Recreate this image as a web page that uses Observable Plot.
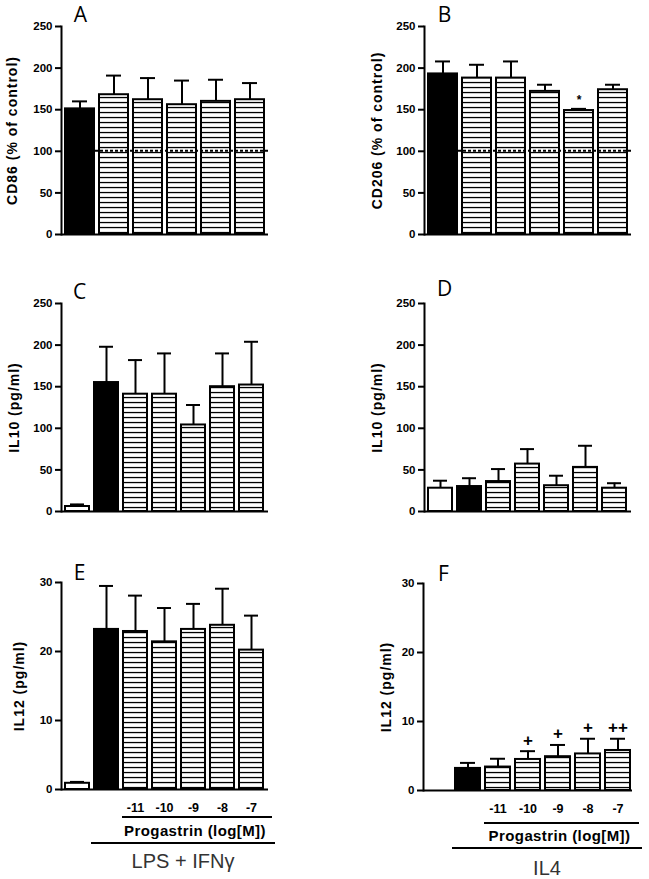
<!DOCTYPE html>
<html><head><meta charset="utf-8">
<script src="https://cdn.jsdelivr.net/npm/d3@7"></script>
<script src="https://cdn.jsdelivr.net/npm/@observablehq/plot@0.6"></script>
<style>
body{margin:0;background:#fff;}
#root{position:relative;width:649px;height:879px;overflow:hidden;background:#fff;}
.panel{position:absolute;}
.panel svg{overflow:visible;}
</style></head><body><div id="root"></div>
<script>
// ---- categories ----
const catsAB = ["Stimulated", "-11", "-10", "-9", "-8", "-7"];
const kindsAB = ["black", "hatch", "hatch", "hatch", "hatch", "hatch"];
const cats7 = ["Control", "Stimulated", "-11", "-10", "-9", "-8", "-7"];
const kinds7 = ["white", "black", "hatch", "hatch", "hatch", "hatch", "hatch"];
const doseLabels = ["-11", "-10", "-9", "-8", "-7"];

// ---- values (mean, upper error) ----
const cd86Mean = [151, 168, 162, 156, 160, 162];
const cd86Err = [9, 23, 26, 29, 26, 20];
const cd206Mean = [193, 188, 188, 172, 149, 174];
const cd206Err = [15, 16, 20, 8, 2, 6];
const cd206Sig = ["", "", "", "", "*", ""];
const il10LpsMean = [6, 155, 141, 141, 104, 150, 152];
const il10LpsErr = [2.5, 43, 41, 49, 24, 40, 52];
const il10Il4Mean = [28, 30, 36, 57, 31, 53, 28];
const il10Il4Err = [9, 10, 15, 18, 12, 26, 6];
const il12LpsMean = [0.9, 23.2, 22.9, 21.4, 23.2, 23.8, 20.2];
const il12LpsErr = [0.2, 6.3, 5.2, 4.9, 3.7, 5.3, 5.0];
const il12Il4Mean = [null, 3.2, 3.4, 4.5, 4.9, 5.3, 5.8];
const il12Il4Err = [null, 0.8, 1.2, 1.2, 1.7, 2.2, 1.7];
const il12Il4Sig = ["", "", "", "+", "+", "+", "++"];

const ticks250 = [0, 50, 100, 150, 200, 250];
const ticks30 = [0, 10, 20, 30];

const FONT = "'Liberation Sans', Arial, sans-serif";

function drawPanel(cfg) {
  const rows = cfg.cats.map((c, i) => ({
    cat: c, kind: cfg.kinds[i], mean: cfg.mean[i],
    top: cfg.mean[i] == null ? null : cfg.mean[i] + cfg.err[i],
    sig: cfg.sig ? cfg.sig[i] : ""
  })).filter(d => d.mean != null);
  const hatchId = "hatch-" + cfg.id;
  const axisX = cfg.axisX, y0 = cfg.y0px;
  const plot = Plot.plot({
    width: cfg.width, height: cfg.height,
    marginLeft: axisX - cfg.left,
    marginRight: cfg.left + cfg.width - cfg.frameEnd,
    marginTop: cfg.yTopPx - cfg.top,
    marginBottom: cfg.top + cfg.height - y0,
    x: {type: "band", domain: cfg.cats, paddingInner: cfg.pi, paddingOuter: cfg.po, axis: null},
    y: {domain: [0, cfg.yMax], axis: null},
    style: {fontFamily: FONT, background: "transparent", overflow: "visible", color: "black"},
    marks: [
      Plot.barY(rows.filter(d => d.kind === "hatch"), {x: "cat", y: "mean", fill: `url(#${hatchId})`, stroke: "black", strokeWidth: 2}),
      Plot.barY(rows.filter(d => d.kind === "white"), {x: "cat", y: "mean", fill: "white", stroke: "black", strokeWidth: 2}),
      Plot.barY(rows.filter(d => d.kind === "black"), {x: "cat", y: "mean", fill: "black", stroke: "black", strokeWidth: 2}),
      Plot.ruleX(rows, {x: "cat", y1: "mean", y2: "top", stroke: "black", strokeWidth: 2}),
      Plot.tickY(rows, {x: "cat", y: "top", stroke: "black", strokeWidth: 2, inset: cfg.capInset}),
      Plot.text(rows.filter(d => d.sig), {x: "cat", y: "top", text: "sig", dy: cfg.sigDy, fontWeight: "bold", fontSize: cfg.sigSize, fill: "black"}),
      Plot.axisY({ticks: cfg.yTicks, tickSize: 6, tickPadding: 3, fontWeight: "bold", fontSize: 11.5, strokeWidth: 2, label: null, fill: "black", stroke: "black"}),
      Plot.frame({anchor: "left", strokeWidth: 2, stroke: "black"}),
      Plot.ruleY([0], {strokeWidth: 2, stroke: "black"}),
      Plot.text([cfg.yLabel], {text: d => d, frameAnchor: "left", dx: cfg.yLabelX - axisX, rotate: -90, textAnchor: "middle", lineAnchor: "middle", fontWeight: "bold", fontSize: 14, fill: "black"}),
      Plot.text([cfg.letter], {text: d => d, frameAnchor: "top-left", dx: cfg.letterX - axisX, dy: cfg.letterY - cfg.yTopPx, textAnchor: "middle", lineAnchor: "middle", fontSize: 21, fontFamily: "'Open Sans', sans-serif", fill: "black"}),
      ...(cfg.bottom ? [Plot.text(rows.filter(d => doseLabels.includes(d.cat)), {x: "cat", text: "cat", frameAnchor: "bottom", dy: 18, lineAnchor: "middle", fontWeight: "bold", fontSize: 12.5, fill: "black"})] : [])
    ]
  });
  const svg = d3.select(plot);
  const pat = svg.insert("defs", ":first-child").append("pattern")
    .attr("id", hatchId).attr("patternUnits", "userSpaceOnUse")
    .attr("width", 8).attr("height", 5);
  pat.append("rect").attr("width", 8).attr("height", 5).attr("fill", "white");
  pat.append("rect").attr("y", 1.9).attr("width", 8).attr("height", 1.3).attr("fill", "black");

  svg.selectAll("text").filter(function () { return this.textContent === cfg.yLabel; })
    .style("letter-spacing", "1px");
  // bold y tick labels
  svg.selectAll('g[aria-label="y-axis tick label"]').style("font-weight", "bold").style("font-size", "11.5px");

  const xs = plot.scale("x"), ys = plot.scale("y");
  const bw = xs.bandwidth;
  const ox = cfg.left;
  if (cfg.refLine != null) {
    svg.append("line")
      .attr("x1", xs.apply(cfg.cats.find((c, i) => cfg.kinds[i] === "black")) + bw + 1)
      .attr("x2", cfg.frameEnd - ox)
      .attr("y1", ys.apply(cfg.refLine)).attr("y2", ys.apply(cfg.refLine))
      .attr("stroke", "black").attr("stroke-width", 2).attr("stroke-dasharray", "3,2");
  }
  if (cfg.bottom) {
    const b = cfg.bottom;
    const yBase = ys.apply(0);
    const hStart = xs.apply(doseLabels[0]);
    const hEnd = xs.apply(doseLabels[doseLabels.length - 1]) + bw;
    const gStart = xs.apply("Stimulated");
    svg.append("line").attr("x1", hStart - 1).attr("x2", hEnd + 9)
      .attr("y1", yBase + b.line1).attr("y2", yBase + b.line1)
      .attr("stroke", "black").attr("stroke-width", 2);
    svg.append("text").attr("x", (hStart + hEnd) / 2 + 2).attr("y", yBase + b.prog)
      .attr("text-anchor", "middle").attr("dominant-baseline", "middle")
      .attr("font-family", FONT).attr("font-weight", "bold").attr("font-size", 15)
      .style("letter-spacing", "0.4px")
      .text("Progastrin (log[M])");
    svg.append("line").attr("x1", gStart - 3).attr("x2", hEnd + 12)
      .attr("y1", yBase + b.line2).attr("y2", yBase + b.line2)
      .attr("stroke", "black").attr("stroke-width", 2);
    svg.append("text").attr("x", (gStart - 3 + hEnd + 12) / 2).attr("y", yBase + b.group)
      .attr("text-anchor", "middle").attr("dominant-baseline", "middle")
      .attr("font-family", FONT).attr("font-size", 20).attr("fill", "#333")
      .text(b.groupLabel);
  }
  const div = document.createElement("div");
  div.className = "panel";
  div.style.left = cfg.left + "px";
  div.style.top = cfg.top + "px";
  div.appendChild(plot);
  document.getElementById("root").appendChild(div);
}

const abBand = {pi: 0.14, po: 0.07, capInset: 7};
const sevenBand = {pi: 0.16, po: 0.05, capInset: 5};

drawPanel({id: "A", left: 0, top: 0, width: 325, height: 250, axisX: 61, frameEnd: 268, y0px: 234, yTopPx: 26,
  cats: catsAB, kinds: kindsAB, mean: cd86Mean, err: cd86Err, yMax: 250, yTicks: ticks250,
  yLabel: "CD86 (% of control)", yLabelX: 12, letter: "A", letterX: 80, letterY: 15, refLine: 100, ...abBand});
drawPanel({id: "B", left: 325, top: 0, width: 324, height: 250, axisX: 424, frameEnd: 631, y0px: 234, yTopPx: 26,
  cats: catsAB, kinds: kindsAB, mean: cd206Mean, err: cd206Err, sig: cd206Sig, sigDy: -9, sigSize: 12, yMax: 250, yTicks: ticks250,
  yLabel: "CD206 (% of control)", yLabelX: 377, letter: "B", letterX: 444, letterY: 15, refLine: 100, ...abBand});
drawPanel({id: "C", left: 0, top: 250, width: 325, height: 280, axisX: 61, frameEnd: 268, y0px: 511, yTopPx: 303,
  cats: cats7, kinds: kinds7, mean: il10LpsMean, err: il10LpsErr, yMax: 250, yTicks: ticks250,
  yLabel: "IL10 (pg/ml)", yLabelX: 14, letter: "C", letterX: 79, letterY: 292, ...sevenBand});
drawPanel({id: "D", left: 325, top: 250, width: 324, height: 280, axisX: 424, frameEnd: 631, y0px: 511, yTopPx: 303,
  cats: cats7, kinds: kinds7, mean: il10Il4Mean, err: il10Il4Err, yMax: 250, yTicks: ticks250,
  yLabel: "IL10 (pg/ml)", yLabelX: 377, letter: "D", letterX: 444, letterY: 289, ...sevenBand});
drawPanel({id: "E", left: 0, top: 530, width: 325, height: 349, axisX: 61, frameEnd: 268, y0px: 789, yTopPx: 582,
  cats: cats7, kinds: kinds7, mean: il12LpsMean, err: il12LpsErr, yMax: 30, yTicks: ticks30,
  yLabel: "IL12 (pg/ml)", yLabelX: 19, letter: "E", letterX: 79, letterY: 573, ...sevenBand,
  bottom: {line1: 28, prog: 43, line2: 54, group: 74, groupLabel: "LPS + IFNγ"}});
drawPanel({id: "F", left: 325, top: 530, width: 324, height: 349, axisX: 423, frameEnd: 632, y0px: 790, yTopPx: 583,
  cats: cats7, kinds: kinds7, mean: il12Il4Mean, err: il12Il4Err, sig: il12Il4Sig, sigDy: -11, sigSize: 17, yMax: 30, yTicks: ticks30,
  yLabel: "IL12 (pg/ml)", yLabelX: 386, letter: "F", letterX: 443, letterY: 574, ...sevenBand,
  bottom: {line1: 33, prog: 47, line2: 58, group: 80, groupLabel: "IL4"}});
</script></body></html>
